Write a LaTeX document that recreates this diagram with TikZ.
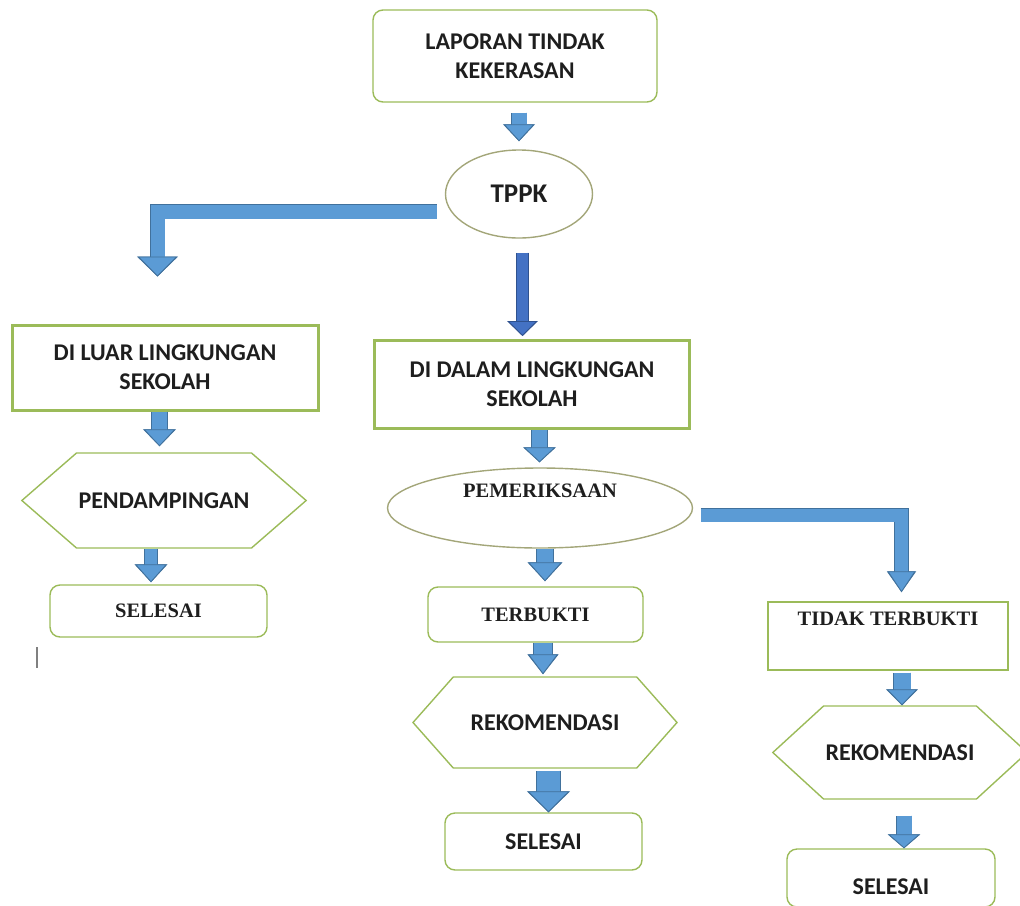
\documentclass[tikz,border=0pt]{standalone}
\usepackage{fontspec}
\setmainfont{Carlito}
\newfontfamily\serifcaps{Liberation Serif}
\usetikzlibrary{shapes.geometric,shapes.symbols,arrows.meta}
\definecolor{boxgreen}{HTML}{9BBB59}
\definecolor{ovalline}{HTML}{A3A679}
\definecolor{arrfill}{HTML}{5B9BD5}
\definecolor{arredge}{HTML}{41719C}
\definecolor{darkfill}{HTML}{4472C4}
\definecolor{darkedge}{HTML}{2F528F}
\definecolor{txt}{HTML}{1E1E1E}

\begin{document}
\begin{tikzpicture}[x=1pt,y=-1pt,
  every node/.style={text=txt, font=\fontsize{24}{29}\selectfont\bfseries, align=center, inner sep=2pt},
  roundbox/.style={draw=boxgreen, line width=1.4pt, rounded corners=10pt},
  sqbox/.style={draw=boxgreen, line width=3pt},
  oval/.style={ellipse, draw=ovalline, line width=1.4pt},
  hexa/.style={signal, signal to=west and east, signal pointer angle=#1, draw=boxgreen, line width=1.4pt},
  serif/.style={font=\fontsize{20.5}{25}\selectfont\serifcaps\bfseries},
  blk/.style n args={3}{draw=arrfill, line width=#1,
    -{Triangle[width=#2,length=#3,line width=0.8pt,color=arredge,fill=arrfill]},
    preaction={draw=arredge, line width=#1+1.6pt, -{Triangle[width=#2,length=#3]}}},
  blkdark/.style n args={3}{draw=darkfill, line width=#1,
    -{Triangle[width=#2,length=#3,line width=0.8pt,color=darkedge,fill=darkfill]},
    preaction={draw=darkedge, line width=#1+1.6pt, -{Triangle[width=#2,length=#3]}}},
]
\useasboundingbox (0,0) rectangle (1020,905);

\node[roundbox, minimum width=284pt, minimum height=92pt] (lap) at (515,56) {LAPORAN TINDAK\\KEKERASAN};
\node[oval, minimum width=147pt, minimum height=88pt, font=\fontsize{27}{30}\selectfont\bfseries] (tppk) at (519,194) {TPPK};
\node[sqbox, minimum width=306pt, minimum height=85pt] (luar) at (165,367.5) {DI LUAR LINGKUNGAN\\SEKOLAH};
\node[sqbox, minimum width=315pt, minimum height=88pt] (dalam) at (532,384.5) {DI DALAM LINGKUNGAN\\SEKOLAH};
\node[hexa=82, minimum width=272pt, minimum height=95pt] (pend) at (164,500.5) {PENDAMPINGAN};
\node[roundbox, serif, minimum width=217pt, minimum height=52pt] (sel1) at (158.5,611) {SELESAI};
\node[oval, serif, minimum width=305pt, minimum height=80pt, text height=14pt, text depth=36pt] (pem) at (540,508) {PEMERIKSAAN};
\node[roundbox, serif, minimum width=215pt, minimum height=55pt] (ter) at (535.5,614.5) {TERBUKTI};
\node[sqbox, serif, line width=1.4pt, minimum width=240pt, minimum height=68pt, text height=14pt, text depth=36pt] (tidak) at (888,636) {TIDAK TERBUKTI};
\node[hexa=97, minimum width=264pt, minimum height=91pt] (rek1) at (545,722.5) {REKOMENDASI};
\node[roundbox, minimum width=197pt, minimum height=57pt] (sel2) at (543.5,841.5) {SELESAI};
\node[hexa=85, minimum width=254pt, minimum height=93pt] (rek2) at (900,752.5) {REKOMENDASI};
\node[roundbox, minimum width=208pt, minimum height=58pt, text height=33pt] (sel3) at (891,878) {SELESAI};

\draw[blk={15pt}{31pt}{17pt}] ([xshift=4pt,yshift=-10pt]lap.south) -- ([yshift=8pt]tppk.north);
\draw[blk={14pt}{40pt}{20pt}] ([xshift=-8pt,yshift=-17.5pt]tppk.west) -| ([xshift=-7.5pt,yshift=47pt]luar.north);
\draw[blkdark={11pt}{30pt}{15pt}] ([xshift=3.5pt,yshift=-14pt]tppk.south) -- ([xshift=-9.5pt,yshift=3pt]dalam.north);
\draw[blk={15pt}{32pt}{17pt}] ([xshift=-5.5pt]luar.south) -- ([xshift=-4.5pt,yshift=6pt]pend.north);
\draw[blk={12pt}{32pt}{18pt}] ([xshift=-13pt]pend.south) -- ([xshift=-7.5pt,yshift=2pt]sel1.north);
\draw[blk={15pt}{32pt}{15pt}] ([xshift=7.5pt]dalam.south) -- ([xshift=-0.5pt,yshift=5pt]pem.north);
\draw[blk={16pt}{34pt}{19pt}] ([xshift=5pt]pem.south) -- ([xshift=9.5pt,yshift=5pt]ter.north);
\draw[blk={13pt}{28pt}{21pt}] ([xshift=7.5pt,yshift=-7pt]pem.east) -| ([xshift=13.5pt,yshift=9pt]tidak.north);
\draw[blk={18pt}{30pt}{20pt}] ([xshift=7.5pt]ter.south) -- ([xshift=-2pt,yshift=2pt]rek1.north);
\draw[blk={23pt}{42pt}{21pt}] ([xshift=3.5pt,yshift=-2pt]rek1.south) -- ([xshift=5pt]sel2.north);
\draw[blk={17pt}{31pt}{16pt}] ([xshift=14pt,yshift=-2pt]tidak.south) -- ([xshift=2pt]rek2.north);
\draw[blk={15pt}{32pt}{14pt}] ([xshift=4pt,yshift=-16pt]rek2.south) -- ([xshift=13pt]sel3.north);

\draw[gray, line width=1.2pt] (37,647) -- (37,668);
\end{tikzpicture}
\end{document}
